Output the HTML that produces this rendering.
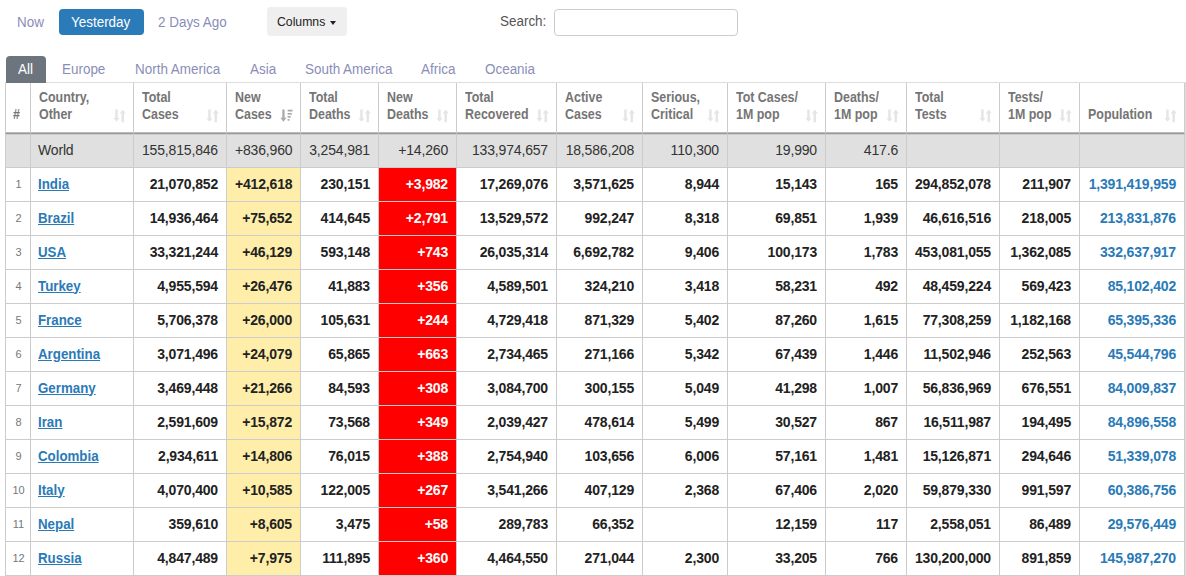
<!DOCTYPE html><html><head><meta charset="utf-8"><title>COVID</title><style>
*{box-sizing:border-box}
html,body{margin:0;padding:0;background:#fff;width:1186px;height:576px;overflow:hidden}
body{font-family:"Liberation Sans",Arial,Helvetica,sans-serif;color:#333;position:relative}
.t{position:absolute;white-space:nowrap;line-height:1}
.nav{font-size:14px;color:#8a8db8;transform:scaleX(.96);transform-origin:0 0}
.btn{position:absolute;left:59px;top:9px;width:85px;height:26px;background:#2c7bb9;border-radius:4px}
.cols{position:absolute;left:267px;top:7px;width:80px;height:29px;background:#efefef;border-radius:4px}
.caret{position:absolute;left:330px;top:21px;width:0;height:0;border-top:4px solid #222;border-left:3.5px solid transparent;border-right:3.5px solid transparent}
.inp{position:absolute;left:554px;top:9px;width:184px;height:27px;border:1px solid #ccc;border-radius:4px;background:#fff}
.tab{position:absolute;left:6px;top:56px;width:40px;height:27px;background:#6c757d;border-radius:4px 4px 0 0;z-index:2}
.topline{position:absolute;left:5px;top:82px;width:1181px;height:1px;background:#ddd}
.rline{position:absolute;left:1185px;top:82px;width:1px;height:494px;background:#ddd}
table{position:absolute;left:5px;top:83px;border-collapse:separate;border-spacing:0;table-layout:fixed;width:1180px}
th,td{border-right:1px solid #ccc;border-bottom:1px solid #ccc;padding:0 8px;overflow:hidden;white-space:nowrap}
th:first-child,td:first-child{border-left:1px solid #ccc}
th{height:51px;vertical-align:bottom;text-align:left;font-size:14px;font-weight:bold;color:#757575;line-height:17px;padding-bottom:10px;position:relative;border-bottom:1px solid #999;box-shadow:inset 0 -1px 0 #bbb}
th .h{display:inline-block;transform:scaleX(.888);transform-origin:0 100%}
th.c1{padding-left:7px;padding-right:0;text-align:left}
.si{position:absolute;right:6px;bottom:10px}
td{height:34px;font-size:14px;letter-spacing:-0.17px;font-weight:bold;color:#222;text-align:right;vertical-align:middle;line-height:16px;padding-bottom:2px}
tr.w td{background:#e0e0e0;font-weight:normal;color:#333;border-top:1px solid #ccc;height:34px}
td.n{font-size:11px;font-weight:normal;color:#777;text-align:center;padding:0 0 2px 1px;letter-spacing:0}
td.c{text-align:left;padding-left:7px}
td.c a{display:inline-block;transform:scaleX(.95);transform-origin:0 50%;letter-spacing:0}
td.c a{color:#2a7ab8;text-decoration:underline}
td.y{background:#ffeeaa}
td.r{background:#ff0000;color:#fff}
td.p{color:#2a7ab8}
</style></head><body>
<div class="t nav" style="left:17px;top:15px">Now</div>
<div class="btn"></div><div class="t nav" style="left:71px;top:15px;color:#fff">Yesterday</div>
<div class="t nav" style="left:158px;top:15px">2 Days Ago</div>
<div class="cols"></div><div class="t" style="left:277px;top:15px;font-size:13.6px;color:#222;transform:scaleX(.9);transform-origin:0 0">Columns</div><div class="caret"></div>
<div class="t nav" style="left:500px;top:14px;color:#555">Search:</div><div class="inp"></div>
<div class="tab"><div class="t nav" style="left:12px;top:6px;color:#fff">All</div></div>
<div class="t nav" style="left:62px;top:62px">Europe</div>
<div class="t nav" style="left:135px;top:62px">North America</div>
<div class="t nav" style="left:250px;top:62px">Asia</div>
<div class="t nav" style="left:305px;top:62px">South America</div>
<div class="t nav" style="left:421px;top:62px">Africa</div>
<div class="t nav" style="left:485px;top:62px">Oceania</div>
<div class="topline"></div><div class="rline"></div>
<table><thead><tr>
<th class="c1" style="width:26px"><span class="h">#</span></th>
<th style="width:103px"><span class="h">Country,<br>Other</span><svg class="si" width="14" height="14" viewBox="0 0 14 14"><path d="M2.2 0.5h2.5v8.4h1.75l-3 3.9-3-3.9h1.75z M8.5 13.3h2.5v-8.9h1.75l-3-3.9-3 3.9h1.75z" fill="#e5e5e5"/></svg></th>
<th style="width:93px"><span class="h">Total<br>Cases</span><svg class="si" width="14" height="14" viewBox="0 0 14 14"><path d="M2.2 0.5h2.5v8.4h1.75l-3 3.9-3-3.9h1.75z M8.5 13.3h2.5v-8.9h1.75l-3-3.9-3 3.9h1.75z" fill="#e5e5e5"/></svg></th>
<th style="width:74px"><span class="h">New<br>Cases</span><svg class="si" width="14" height="14" viewBox="0 0 14 14"><path d="M2.3 0.5h2.3v8.2h1.9l-3.05 4-3.05-4h1.9z" fill="#aaa"/><rect x="7.6" y="0.7" width="5" height="1.8" fill="#aaa"/><rect x="7.6" y="4" width="4.2" height="1.7" fill="#aaa"/><rect x="7.6" y="7" width="3.1" height="1.7" fill="#aaa"/><rect x="7.6" y="10" width="1.9" height="1.7" fill="#aaa"/></svg></th>
<th style="width:78px"><span class="h">Total<br>Deaths</span><svg class="si" width="14" height="14" viewBox="0 0 14 14"><path d="M2.2 0.5h2.5v8.4h1.75l-3 3.9-3-3.9h1.75z M8.5 13.3h2.5v-8.9h1.75l-3-3.9-3 3.9h1.75z" fill="#e5e5e5"/></svg></th>
<th style="width:78px"><span class="h">New<br>Deaths</span><svg class="si" width="14" height="14" viewBox="0 0 14 14"><path d="M2.2 0.5h2.5v8.4h1.75l-3 3.9-3-3.9h1.75z M8.5 13.3h2.5v-8.9h1.75l-3-3.9-3 3.9h1.75z" fill="#e5e5e5"/></svg></th>
<th style="width:100px"><span class="h">Total<br>Recovered</span><svg class="si" width="14" height="14" viewBox="0 0 14 14"><path d="M2.2 0.5h2.5v8.4h1.75l-3 3.9-3-3.9h1.75z M8.5 13.3h2.5v-8.9h1.75l-3-3.9-3 3.9h1.75z" fill="#e5e5e5"/></svg></th>
<th style="width:86px"><span class="h">Active<br>Cases</span><svg class="si" width="14" height="14" viewBox="0 0 14 14"><path d="M2.2 0.5h2.5v8.4h1.75l-3 3.9-3-3.9h1.75z M8.5 13.3h2.5v-8.9h1.75l-3-3.9-3 3.9h1.75z" fill="#e5e5e5"/></svg></th>
<th style="width:85px"><span class="h">Serious,<br>Critical</span><svg class="si" width="14" height="14" viewBox="0 0 14 14"><path d="M2.2 0.5h2.5v8.4h1.75l-3 3.9-3-3.9h1.75z M8.5 13.3h2.5v-8.9h1.75l-3-3.9-3 3.9h1.75z" fill="#e5e5e5"/></svg></th>
<th style="width:98px"><span class="h">Tot&nbsp;Cases/<br>1M pop</span><svg class="si" width="14" height="14" viewBox="0 0 14 14"><path d="M2.2 0.5h2.5v8.4h1.75l-3 3.9-3-3.9h1.75z M8.5 13.3h2.5v-8.9h1.75l-3-3.9-3 3.9h1.75z" fill="#e5e5e5"/></svg></th>
<th style="width:81px"><span class="h">Deaths/<br>1M pop</span><svg class="si" width="14" height="14" viewBox="0 0 14 14"><path d="M2.2 0.5h2.5v8.4h1.75l-3 3.9-3-3.9h1.75z M8.5 13.3h2.5v-8.9h1.75l-3-3.9-3 3.9h1.75z" fill="#e5e5e5"/></svg></th>
<th style="width:93px"><span class="h">Total<br>Tests</span><svg class="si" width="14" height="14" viewBox="0 0 14 14"><path d="M2.2 0.5h2.5v8.4h1.75l-3 3.9-3-3.9h1.75z M8.5 13.3h2.5v-8.9h1.75l-3-3.9-3 3.9h1.75z" fill="#e5e5e5"/></svg></th>
<th style="width:80px"><span class="h">Tests/<br>1M pop</span><svg class="si" width="14" height="14" viewBox="0 0 14 14"><path d="M2.2 0.5h2.5v8.4h1.75l-3 3.9-3-3.9h1.75z M8.5 13.3h2.5v-8.9h1.75l-3-3.9-3 3.9h1.75z" fill="#e5e5e5"/></svg></th>
<th style="width:105px"><span class="h">Population</span><svg class="si" width="14" height="14" viewBox="0 0 14 14"><path d="M2.2 0.5h2.5v8.4h1.75l-3 3.9-3-3.9h1.75z M8.5 13.3h2.5v-8.9h1.75l-3-3.9-3 3.9h1.75z" fill="#e5e5e5"/></svg></th>
</tr></thead><tbody>
<tr class="w"><td class="n"></td><td class="c">World</td><td>155,815,846</td><td>+836,960</td><td>3,254,981</td><td>+14,260</td><td>133,974,657</td><td>18,586,208</td><td>110,300</td><td>19,990</td><td>417.6</td><td></td><td></td><td></td></tr>
<tr><td class="n">1</td><td class="c"><a>India</a></td><td>21,070,852</td><td class="y">+412,618</td><td>230,151</td><td class="r">+3,982</td><td>17,269,076</td><td>3,571,625</td><td>8,944</td><td>15,143</td><td>165</td><td>294,852,078</td><td>211,907</td><td class="p">1,391,419,959</td></tr>
<tr><td class="n">2</td><td class="c"><a>Brazil</a></td><td>14,936,464</td><td class="y">+75,652</td><td>414,645</td><td class="r">+2,791</td><td>13,529,572</td><td>992,247</td><td>8,318</td><td>69,851</td><td>1,939</td><td>46,616,516</td><td>218,005</td><td class="p">213,831,876</td></tr>
<tr><td class="n">3</td><td class="c"><a>USA</a></td><td>33,321,244</td><td class="y">+46,129</td><td>593,148</td><td class="r">+743</td><td>26,035,314</td><td>6,692,782</td><td>9,406</td><td>100,173</td><td>1,783</td><td>453,081,055</td><td>1,362,085</td><td class="p">332,637,917</td></tr>
<tr><td class="n">4</td><td class="c"><a>Turkey</a></td><td>4,955,594</td><td class="y">+26,476</td><td>41,883</td><td class="r">+356</td><td>4,589,501</td><td>324,210</td><td>3,418</td><td>58,231</td><td>492</td><td>48,459,224</td><td>569,423</td><td class="p">85,102,402</td></tr>
<tr><td class="n">5</td><td class="c"><a>France</a></td><td>5,706,378</td><td class="y">+26,000</td><td>105,631</td><td class="r">+244</td><td>4,729,418</td><td>871,329</td><td>5,402</td><td>87,260</td><td>1,615</td><td>77,308,259</td><td>1,182,168</td><td class="p">65,395,336</td></tr>
<tr><td class="n">6</td><td class="c"><a>Argentina</a></td><td>3,071,496</td><td class="y">+24,079</td><td>65,865</td><td class="r">+663</td><td>2,734,465</td><td>271,166</td><td>5,342</td><td>67,439</td><td>1,446</td><td>11,502,946</td><td>252,563</td><td class="p">45,544,796</td></tr>
<tr><td class="n">7</td><td class="c"><a>Germany</a></td><td>3,469,448</td><td class="y">+21,266</td><td>84,593</td><td class="r">+308</td><td>3,084,700</td><td>300,155</td><td>5,049</td><td>41,298</td><td>1,007</td><td>56,836,969</td><td>676,551</td><td class="p">84,009,837</td></tr>
<tr><td class="n">8</td><td class="c"><a>Iran</a></td><td>2,591,609</td><td class="y">+15,872</td><td>73,568</td><td class="r">+349</td><td>2,039,427</td><td>478,614</td><td>5,499</td><td>30,527</td><td>867</td><td>16,511,987</td><td>194,495</td><td class="p">84,896,558</td></tr>
<tr><td class="n">9</td><td class="c"><a>Colombia</a></td><td>2,934,611</td><td class="y">+14,806</td><td>76,015</td><td class="r">+388</td><td>2,754,940</td><td>103,656</td><td>6,006</td><td>57,161</td><td>1,481</td><td>15,126,871</td><td>294,646</td><td class="p">51,339,078</td></tr>
<tr><td class="n">10</td><td class="c"><a>Italy</a></td><td>4,070,400</td><td class="y">+10,585</td><td>122,005</td><td class="r">+267</td><td>3,541,266</td><td>407,129</td><td>2,368</td><td>67,406</td><td>2,020</td><td>59,879,330</td><td>991,597</td><td class="p">60,386,756</td></tr>
<tr><td class="n">11</td><td class="c"><a>Nepal</a></td><td>359,610</td><td class="y">+8,605</td><td>3,475</td><td class="r">+58</td><td>289,783</td><td>66,352</td><td></td><td>12,159</td><td>117</td><td>2,558,051</td><td>86,489</td><td class="p">29,576,449</td></tr>
<tr><td class="n">12</td><td class="c"><a>Russia</a></td><td>4,847,489</td><td class="y">+7,975</td><td>111,895</td><td class="r">+360</td><td>4,464,550</td><td>271,044</td><td>2,300</td><td>33,205</td><td>766</td><td>130,200,000</td><td>891,859</td><td class="p">145,987,270</td></tr>
</tbody></table></body></html>
